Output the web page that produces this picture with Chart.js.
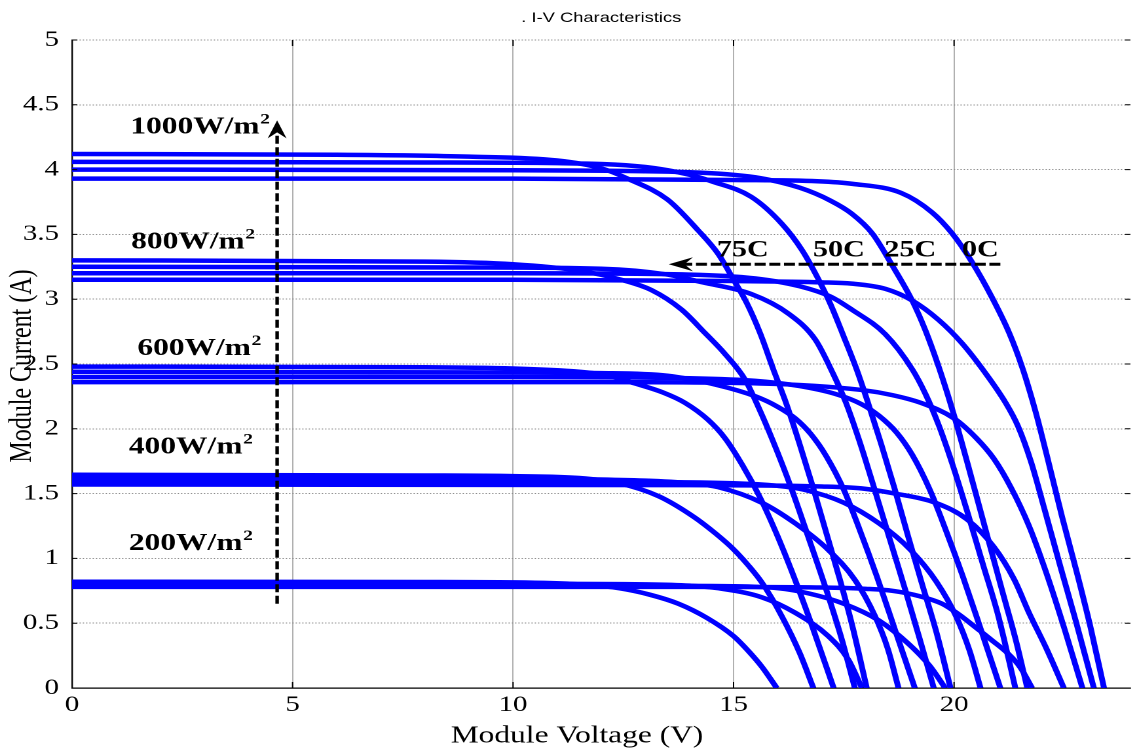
<!DOCTYPE html>
<html lang="en">
<head>
    <meta charset="UTF-8">
    <title>I-V Characteristics</title>
    <script src="https://cdn.jsdelivr.net/npm/chart.js"></script>
    <style>
        html, body { margin: 0; padding: 0; background: #fff; overflow: hidden; }
        /* the original figure is stretched sideways, so the chart is drawn narrow and widened */
        #wrap { width: 868px; height: 749px; transform: scaleX(1.30991); transform-origin: 0 0; }
    </style>
</head>
<body>
    <div id="wrap"><canvas id="ivChart" width="868" height="749"></canvas></div>

    <script>
        // tick labels
        const xTicks = [0, 5, 10, 15, 20];
        const yTicks = [0, 0.5, 1, 1.5, 2, 2.5, 3, 3.5, 4, 4.5, 5];

        // categories
        const irradiances = [1000, 800, 600, 400, 200];   // W/m^2
        const temperatures = [75, 50, 25, 0];             // C

        // curves: [voltage (V), current (A)]
        const g1000_t75 = [[0,4.12],[6,4.115],[9,4.1],[11,4.07],[12,4.01],[12.6,3.93],[13.5,3.77],[14.2,3.53],[14.65,3.35],[15,3.15],[15.3,2.97],[15.6,2.74],[15.9,2.46],[16.2,2.19],[16.5,1.88],[16.8,1.55],[17.1,1.2],[17.4,0.85],[17.7,0.47],[18.02,0]];
        const g1000_t50 = [[0,4.06],[8,4.055],[11,4.05],[13,4.02],[14,3.96],[14.5,3.91],[15.4,3.79],[16.1,3.58],[16.55,3.38],[16.9,3.17],[17.2,2.96],[17.5,2.71],[17.8,2.45],[18.05,2.2],[18.35,1.88],[18.65,1.54],[18.95,1.18],[19.25,0.83],[19.6,0.43],[19.92,0]];
        const g1000_t25 = [[0,4.0],[10,3.995],[14,3.98],[15.5,3.94],[16.5,3.86],[17.2,3.76],[17.68,3.66],[18.14,3.51],[18.6,3.26],[19.05,2.99],[19.35,2.76],[19.65,2.48],[19.95,2.16],[20.3,1.74],[20.7,1.24],[21.1,0.74],[21.4,0.37],[21.66,0]];
        const g1000_t0  = [[0,3.93],[10,3.93],[15,3.92],[16.9,3.91],[17.7,3.89],[18.8,3.82],[19.5,3.67],[19.95,3.51],[20.4,3.29],[20.85,3.02],[21.25,2.74],[21.55,2.47],[21.85,2.13],[22.1,1.8],[22.45,1.32],[22.8,0.87],[23.1,0.46],[23.4,0]];

        const g800_t75 = [[0,3.3],[8,3.29],[10,3.27],[11.5,3.22],[12.45,3.15],[13.14,3.07],[13.82,2.92],[14.35,2.74],[14.8,2.58],[15.26,2.38],[15.56,2.17],[15.9,1.9],[16.3,1.55],[16.7,1.16],[17.1,0.76],[17.45,0.38],[17.75,0]];
        const g800_t50 = [[0,3.25],[9,3.245],[12,3.235],[13.5,3.19],[14.3,3.13],[15.4,3.04],[16.24,2.89],[16.85,2.69],[17.25,2.43],[17.55,2.2],[17.85,1.91],[18.2,1.53],[18.55,1.14],[18.9,0.75],[19.22,0.38],[19.54,0]];
        const g800_t25 = [[0,3.2],[10,3.2],[14,3.19],[15.5,3.16],[16.5,3.1],[17.2,3.02],[17.68,2.92],[18.44,2.73],[19.05,2.46],[19.35,2.27],[19.65,2.03],[19.95,1.74],[20.3,1.36],[20.65,0.96],[21,0.56],[21.39,0]];
        const g800_t0  = [[0,3.15],[10,3.15],[15,3.14],[17,3.13],[17.68,3.12],[18.44,3.08],[19.05,2.99],[19.65,2.84],[20.18,2.66],[20.71,2.43],[21.17,2.2],[21.45,2.02],[21.75,1.74],[22.05,1.38],[22.4,0.95],[22.75,0.53],[23.17,0]];

        const g600_t75 = [[0,2.48],[8,2.475],[10,2.465],[11.5,2.44],[12,2.42],[12.76,2.35],[13.4,2.28],[13.9,2.2],[14.42,2.07],[14.8,1.93],[15.2,1.72],[15.6,1.47],[16,1.17],[16.4,0.83],[16.8,0.46],[17.27,0]];
        const g600_t50 = [[0,2.44],[9,2.435],[12,2.43],[13.5,2.41],[14.6,2.34],[15.5,2.25],[16,2.17],[16.4,2.08],[16.75,1.96],[17.1,1.79],[17.5,1.53],[17.85,1.23],[18.25,0.86],[18.65,0.46],[19.11,0]];
        const g600_t25 = [[0,2.4],[10,2.4],[14,2.39],[15.5,2.37],[16.5,2.33],[17.3,2.27],[17.9,2.19],[18.3,2.1],[18.7,1.97],[19.05,1.8],[19.45,1.53],[19.8,1.23],[20.2,0.86],[20.6,0.46],[21.05,0]];
        const g600_t0  = [[0,2.36],[12,2.36],[15.6,2.35],[17.9,2.3],[18.6,2.26],[19.25,2.2],[20,2.08],[20.5,1.93],[20.9,1.77],[21.3,1.54],[21.7,1.25],[22.1,0.88],[22.5,0.46],[22.91,0]];

        const g400_t75 = [[0,1.645],[8,1.64],[10,1.635],[11.5,1.62],[12.4,1.58],[13.3,1.48],[14.1,1.32],[14.6,1.19],[15,1.07],[15.35,0.94],[15.65,0.81],[16.1,0.55],[16.5,0.27],[16.81,0]];
        const g400_t50 = [[0,1.62],[10,1.615],[13,1.6],[14,1.58],[14.65,1.55],[15.64,1.43],[16.4,1.27],[17.15,1.065],[17.76,0.83],[18.2,0.56],[18.5,0.3],[18.74,0]];
        const g400_t25 = [[0,1.595],[12,1.59],[15,1.58],[16,1.56],[16.6,1.53],[17.5,1.43],[18.3,1.27],[19,1.07],[19.6,0.82],[20.05,0.55],[20.35,0.29],[20.6,0]];
        const g400_t0  = [[0,1.57],[14,1.565],[17,1.555],[17.9,1.54],[18.66,1.5],[19.57,1.43],[20.3,1.3],[20.9,1.09],[21.36,0.84],[21.7,0.58],[22.1,0.3],[22.49,0]];

        const g200_t75 = [[0,0.82],[8,0.818],[10,0.815],[11.5,0.8],[12.4,0.77],[13.1,0.72],[13.75,0.65],[14.4,0.54],[15,0.4],[15.35,0.28],[15.65,0.16],[15.98,0]];
        const g200_t50 = [[0,0.807],[10,0.805],[13,0.8],[14,0.79],[14.65,0.77],[15.64,0.7],[16.4,0.58],[17.15,0.4],[17.6,0.22],[17.91,0]];
        const g200_t25 = [[0,0.793],[12,0.79],[15,0.785],[16,0.77],[16.7,0.73],[17.5,0.65],[18.3,0.52],[18.97,0.34],[19.45,0.17],[19.8,0]];
        const g200_t0  = [[0,0.78],[14,0.78],[17,0.775],[18,0.765],[18.6,0.75],[19.2,0.71],[19.73,0.65],[20.1,0.57],[20.48,0.47],[20.85,0.37],[21.24,0.26],[21.5,0.16],[21.77,0]];

        const curveTable = [
            [g1000_t75, g1000_t50, g1000_t25, g1000_t0],
            [g800_t75, g800_t50, g800_t25, g800_t0],
            [g600_t75, g600_t50, g600_t25, g600_t0],
            [g400_t75, g400_t50, g400_t25, g400_t0],
            [g200_t75, g200_t50, g200_t25, g200_t0]
        ];

        const datasets = [];
        irradiances.forEach((g, gi) => {
            temperatures.forEach((t, ti) => {
                datasets.push({
                    label: g + "W/m2, " + t + "C",
                    data: curveTable[gi][ti].map(p => ({ x: p[0], y: p[1] })),
                    showLine: true,
                    borderColor: "#0000ff",
                    borderWidth: 4.5,
                    pointRadius: 0,
                    fill: false,
                    cubicInterpolationMode: "monotone",
                    borderJoinStyle: "round"
                });
            });
        });

        const serif = '"Liberation Serif", "Times New Roman", serif';

        // arrow head like matlab's "vback" style
        function arrowHead(ctx, tx, ty, dir) {
            ctx.beginPath();
            if (dir === "up") {
                ctx.moveTo(tx, ty);
                ctx.lineTo(tx + 7.2, ty + 18);
                ctx.lineTo(tx, ty + 12);
                ctx.lineTo(tx - 7.2, ty + 18);
            } else {
                ctx.moveTo(tx, ty);
                ctx.lineTo(tx + 18.5, ty - 7);
                ctx.lineTo(tx + 12, ty);
                ctx.lineTo(tx + 18.5, ty + 7);
            }
            ctx.closePath();
            ctx.fill();
        }

        const annotations = {
            id: "annotations",
            afterDraw(chart) {
                const { ctx, chartArea: a, scales: { x, y } } = chart;
                ctx.save();
                ctx.fillStyle = "#000";
                ctx.strokeStyle = "#000";

                // small inside tick marks
                ctx.lineWidth = 1;
                ctx.beginPath();
                yTicks.forEach(v => {
                    const py = y.getPixelForValue(v);
                    ctx.moveTo(a.left, py); ctx.lineTo(a.left + 4, py);
                    ctx.moveTo(a.right - 4, py); ctx.lineTo(a.right, py);
                });
                xTicks.forEach(v => {
                    const px = x.getPixelForValue(v);
                    ctx.moveTo(px, a.bottom); ctx.lineTo(px, a.bottom - 6);
                    ctx.moveTo(px, a.top); ctx.lineTo(px, a.top + 6);
                });
                ctx.stroke();

                // title
                ctx.font = '14px "Liberation Sans", Arial, sans-serif';
                ctx.textAlign = "center";
                ctx.textBaseline = "middle";
                ctx.fillText(". I-V Characteristics", (a.left + a.right) / 2, 18);

                // axis titles
                ctx.font = "24px " + serif;
                ctx.fillText("Module Voltage (V)", 440.5, 736);
                ctx.save();
                ctx.translate(17, (a.top + a.bottom) / 2 + 2);
                ctx.rotate(-Math.PI / 2);
                ctx.fillText("Module Current (A)", 0, 0);
                ctx.restore();

                // irradiance labels
                ctx.textAlign = "left";
                ctx.textBaseline = "alphabetic";
                const irrLabels = [[1.32, 4.28], [1.34, 3.39], [1.48, 2.57], [1.29, 1.81], [1.29, 1.065]];
                irradiances.forEach((g, i) => {
                    const px = x.getPixelForValue(irrLabels[i][0]);
                    const py = y.getPixelForValue(irrLabels[i][1]);
                    ctx.font = "bold 24px " + serif;
                    const txt = g + "W/m";
                    ctx.fillText(txt, px, py);
                    const w = ctx.measureText(txt).width;
                    ctx.font = "bold 15px " + serif;
                    ctx.fillText("2", px + w + 0.5, py - 10);
                });

                // temperature labels
                ctx.font = "bold 23px " + serif;
                const tempX = [14.62, 16.8, 18.42, 20.18];
                temperatures.forEach((t, i) => {
                    ctx.fillText(t + "C", x.getPixelForValue(tempX[i]), y.getPixelForValue(3.33));
                });

                // dashed arrows
                ctx.setLineDash([8, 3.5]);
                ctx.lineWidth = 2.7;
                const ax = x.getPixelForValue(4.65);
                const ay0 = y.getPixelForValue(0.65);
                const ay1 = y.getPixelForValue(4.38);
                ctx.beginPath();
                ctx.moveTo(ax, ay0); ctx.lineTo(ax, ay1 + 12);
                ctx.stroke();

                ctx.setLineDash([8.4, 2.8]);
                ctx.lineWidth = 3;
                const hy = y.getPixelForValue(3.27);
                const hx0 = x.getPixelForValue(21.05);
                const hx1 = x.getPixelForValue(13.53);
                ctx.beginPath();
                ctx.moveTo(hx0, hy); ctx.lineTo(hx1 + 12, hy);
                ctx.stroke();
                ctx.setLineDash([]);

                arrowHead(ctx, ax, ay1, "up");
                arrowHead(ctx, hx1, hy, "left");

                ctx.restore();
            }
        };

        new Chart(document.getElementById("ivChart"), {
            type: "scatter",
            data: { datasets: datasets },
            options: {
                responsive: false,
                animation: false,
                devicePixelRatio: 2,
                layout: { padding: { top: 40, right: 5, left: 0, bottom: 0 } },
                plugins: {
                    legend: { display: false },
                    tooltip: { enabled: false }
                },
                scales: {
                    x: {
                        type: "linear",
                        min: 0,
                        max: 24,
                        afterBuildTicks: s => { s.ticks = xTicks.map(v => ({ value: v })); },
                        afterFit: s => { s.height = 61; },
                        ticks: {
                            color: "#000",
                            font: { family: serif, size: 22 },
                            padding: 4,
                            maxRotation: 0,
                            callback: v => String(v)
                        },
                        grid: { color: "#9c9c9c", lineWidth: 0.8, drawTicks: false },
                        border: { display: true, color: "#000", width: 1.2 }
                    },
                    y: {
                        min: 0,
                        max: 5,
                        afterBuildTicks: s => { s.ticks = yTicks.map(v => ({ value: v })); },
                        afterFit: s => { s.width = 55; },
                        ticks: {
                            color: "#000",
                            font: { family: serif, size: 22 },
                            padding: 10,
                            callback: v => String(v)
                        },
                        grid: { color: "#8a8a8a", lineWidth: 1, drawTicks: false },
                        border: { display: true, color: "#000", width: 1.2, dash: [1, 1.5] }
                    }
                }
            },
            plugins: [annotations]
        });
    </script>
</body>
</html>
